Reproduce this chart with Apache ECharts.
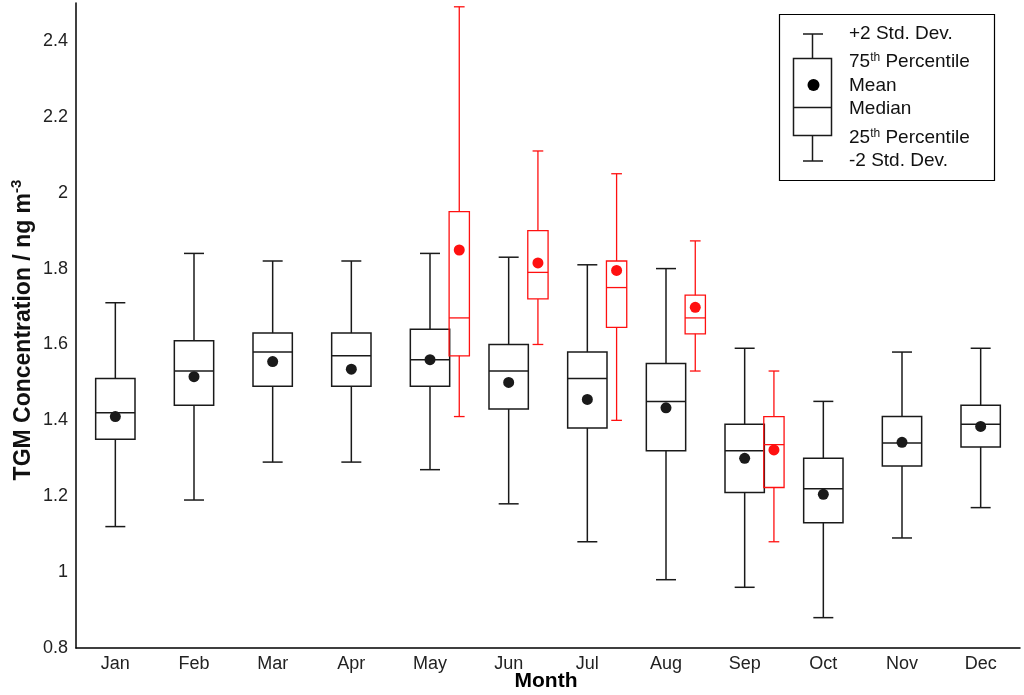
<!DOCTYPE html>
<html>
<head>
<meta charset="utf-8">
<script src="https://cdn.jsdelivr.net/npm/echarts@6/dist/echarts.min.js"></script>
<style>
  html, body { margin: 0; padding: 0; background: #fff; }
  #main { width: 1024px; height: 695px; }
</style>
</head>
<body>
<div id="main"></div>
<script>
// 月份
const months = ['Jan', 'Feb', 'Mar', 'Apr', 'May', 'Jun', 'Jul', 'Aug', 'Sep', 'Oct', 'Nov', 'Dec'];

// 黑色箱线（全部月份）
const lowerSd = [1.12, 1.19, 1.29, 1.29, 1.27, 1.18, 1.08, 0.98, 0.96, 0.88, 1.09, 1.17];
const q25     = [1.35, 1.44, 1.49, 1.49, 1.49, 1.43, 1.38, 1.32, 1.21, 1.13, 1.28, 1.33];
const medians = [1.42, 1.53, 1.58, 1.57, 1.56, 1.53, 1.51, 1.45, 1.32, 1.22, 1.34, 1.39];
const q75     = [1.51, 1.61, 1.63, 1.63, 1.64, 1.60, 1.58, 1.55, 1.39, 1.30, 1.41, 1.44];
const upperSd = [1.71, 1.84, 1.82, 1.82, 1.84, 1.83, 1.81, 1.80, 1.59, 1.45, 1.58, 1.59];
const means   = [1.41, 1.515, 1.555, 1.535, 1.56, 1.50, 1.455, 1.433, 1.30, 1.205, 1.342, 1.384];

// 红色箱线（5月-9月）
const redMonths  = ['May', 'Jun', 'Jul', 'Aug', 'Sep'];
const redLowerSd = [1.41, 1.60, 1.40, 1.53, 1.08];
const redQ25     = [1.57, 1.72, 1.645, 1.628, 1.223];
const redMedians = [1.67, 1.79, 1.75, 1.67, 1.336];
const redQ75     = [1.95, 1.90, 1.82, 1.73, 1.41];
const redUpperSd = [2.49, 2.11, 2.05, 1.873, 1.53];
const redMeans   = [1.849, 1.815, 1.795, 1.698, 1.322];

const yTicks = [0.8, 1, 1.2, 1.4, 1.6, 1.8, 2, 2.2, 2.4];

const FONT = 'Liberation Sans, Arial, sans-serif';

// 箱线绘制函数
function makeBoxRenderer(offset, boxFrac, capFrac, color, lw, dotR) {
    return function (params, api) {
        const idx = api.value(0);
        const band = api.size([1, 0])[0];
        const cx = api.coord([idx, 1])[0] + offset * band;
        const py = function (i) { return api.coord([idx, api.value(i)])[1]; };
        const yLo = py(1), yQ1 = py(2), yMed = py(3), yQ3 = py(4), yHi = py(5), yMean = py(6);
        const hw = boxFrac * band / 2;
        const cw = capFrac * band / 2;
        const ls = { stroke: color, lineWidth: lw };
        return {
            type: 'group',
            children: [
                { type: 'line', shape: { x1: cx, y1: yHi, x2: cx, y2: yQ3 }, style: ls },
                { type: 'line', shape: { x1: cx, y1: yQ1, x2: cx, y2: yLo }, style: ls },
                { type: 'line', shape: { x1: cx - cw, y1: yHi, x2: cx + cw, y2: yHi }, style: ls },
                { type: 'line', shape: { x1: cx - cw, y1: yLo, x2: cx + cw, y2: yLo }, style: ls },
                { type: 'rect', shape: { x: cx - hw, y: yQ3, width: 2 * hw, height: yQ1 - yQ3 },
                  style: { stroke: color, lineWidth: lw, fill: 'none' } },
                { type: 'line', shape: { x1: cx - hw, y1: yMed, x2: cx + hw, y2: yMed }, style: ls },
                { type: 'circle', shape: { cx: cx, cy: yMean, r: dotR }, style: { fill: color } }
            ]
        };
    };
}

const blackData = months.map(function (m, i) {
    return [i, lowerSd[i], q25[i], medians[i], q75[i], upperSd[i], means[i]];
});
const redData = redMonths.map(function (m, i) {
    return [months.indexOf(m), redLowerSd[i], redQ25[i], redMedians[i], redQ75[i], redUpperSd[i], redMeans[i]];
});

const chart = echarts.init(document.getElementById('main'));

const legendText = { fontFamily: FONT, fontSize: 19, fill: '#111' };
const supRich = {
    n: { fontFamily: FONT, fontSize: 19, fill: '#111', lineHeight: 20, verticalAlign: 'bottom' },
    s: { fontFamily: FONT, fontSize: 12, fill: '#111', lineHeight: 20, verticalAlign: 'top' }
};
const gl = { stroke: '#1a1a1a', lineWidth: 1.5 };

// 图例元素（手动绘制）
const legendItems = [
    { type: 'rect', shape: { x: 779.5, y: 14.5, width: 215, height: 166 }, style: { fill: '#fff', stroke: '#000', lineWidth: 1.2 } },
    { type: 'line', shape: { x1: 812.5, y1: 34, x2: 812.5, y2: 58.5 }, style: gl },
    { type: 'line', shape: { x1: 812.5, y1: 135.5, x2: 812.5, y2: 161 }, style: gl },
    { type: 'line', shape: { x1: 803, y1: 34, x2: 823, y2: 34 }, style: gl },
    { type: 'line', shape: { x1: 803, y1: 161, x2: 823, y2: 161 }, style: gl },
    { type: 'rect', shape: { x: 793.5, y: 58.5, width: 38, height: 77 }, style: { fill: 'none', stroke: '#1a1a1a', lineWidth: 1.5 } },
    { type: 'line', shape: { x1: 793.5, y1: 107.5, x2: 831.5, y2: 107.5 }, style: gl },
    { type: 'circle', shape: { cx: 813.5, cy: 85, r: 6 }, style: { fill: '#000' } },
    { type: 'text', x: 849, y: 33.5, style: Object.assign({ text: '+2 Std. Dev.', verticalAlign: 'middle' }, legendText) },
    { type: 'text', x: 849, y: 61.5, style: { text: '{n|75}{s|th}{n| Percentile}', verticalAlign: 'middle', rich: supRich } },
    { type: 'text', x: 849, y: 85.5, style: Object.assign({ text: 'Mean', verticalAlign: 'middle' }, legendText) },
    { type: 'text', x: 849, y: 108.5, style: Object.assign({ text: 'Median', verticalAlign: 'middle' }, legendText) },
    { type: 'text', x: 849, y: 137.5, style: { text: '{n|25}{s|th}{n| Percentile}', verticalAlign: 'middle', rich: supRich } },
    { type: 'text', x: 849, y: 160.5, style: Object.assign({ text: '-2 Std. Dev.', verticalAlign: 'middle' }, legendText) }
];
legendItems.forEach(function (it, i) { it.z = 10 + i; });

const option = {
    backgroundColor: '#fff',
    animation: false,
    grid: { left: 76, right: 4, top: 3, bottom: 47, outerBoundsMode: 'none', containLabel: false },
    xAxis: {
        type: 'category',
        data: months,
        boundaryGap: true,
        axisLine: { lineStyle: { color: '#000', width: 1.5 } },
        axisTick: { alignWithLabel: true, inside: true, length: 9, lineStyle: { color: '#000', width: 1.5 } },
        axisLabel: { fontFamily: FONT, fontSize: 18, color: '#222', margin: 7 },
        splitLine: { show: false }
    },
    yAxis: {
        type: 'value',
        min: 0.8,
        max: 2.5,
        interval: 0.2,
        axisLine: { show: true, lineStyle: { color: '#000', width: 1.5 } },
        axisTick: { inside: true, length: 9, lineStyle: { color: '#000', width: 1.5 } },
        axisLabel: {
            fontFamily: FONT, fontSize: 18, color: '#222', margin: 8,
            showMaxLabel: false,
            formatter: function (v) {
                const t = yTicks.find(function (k) { return Math.abs(k - v) < 1e-6; });
                return t === undefined ? '' : String(t);
            }
        },
        splitLine: { show: false }
    },
    series: [
        {
            type: 'custom',
            name: 'all',
            renderItem: makeBoxRenderer(0, 0.5, 0.254, '#1a1a1a', 1.5, 5.5),
            encode: { x: 0, y: [1, 2, 3, 4, 5, 6] },
            data: blackData,
            z: 2
        },
        {
            type: 'custom',
            name: 'red',
            renderItem: makeBoxRenderer(0.372, 0.258, 0.136, '#ff1010', 1.3, 5.5),
            encode: { x: 0, y: [1, 2, 3, 4, 5, 6] },
            data: redData,
            z: 3
        }
    ],
    graphic: [
        // y轴标题
        {
            type: 'text',
            x: 22, y: 330,
            rotation: Math.PI / 2,
            style: {
                text: '{a|TGM Concentration / ng m}{b|-3}',
                align: 'center',
                verticalAlign: 'middle',
                rich: {
                    a: { fontFamily: FONT, fontSize: 23, fontWeight: 'bold', fill: '#111', lineHeight: 26, verticalAlign: 'bottom' },
                    b: { fontFamily: FONT, fontSize: 15, fontWeight: 'bold', fill: '#111', lineHeight: 26, verticalAlign: 'top' }
                }
            }
        },
        // x轴标题
        {
            type: 'text',
            x: 546, y: 681,
            style: {
                text: 'Month', align: 'center', verticalAlign: 'middle',
                fontFamily: FONT, fontSize: 21, fontWeight: 'bold', fill: '#000'
            }
        }
    ].concat(legendItems)
};

chart.setOption(option);
</script>
</body>
</html>
